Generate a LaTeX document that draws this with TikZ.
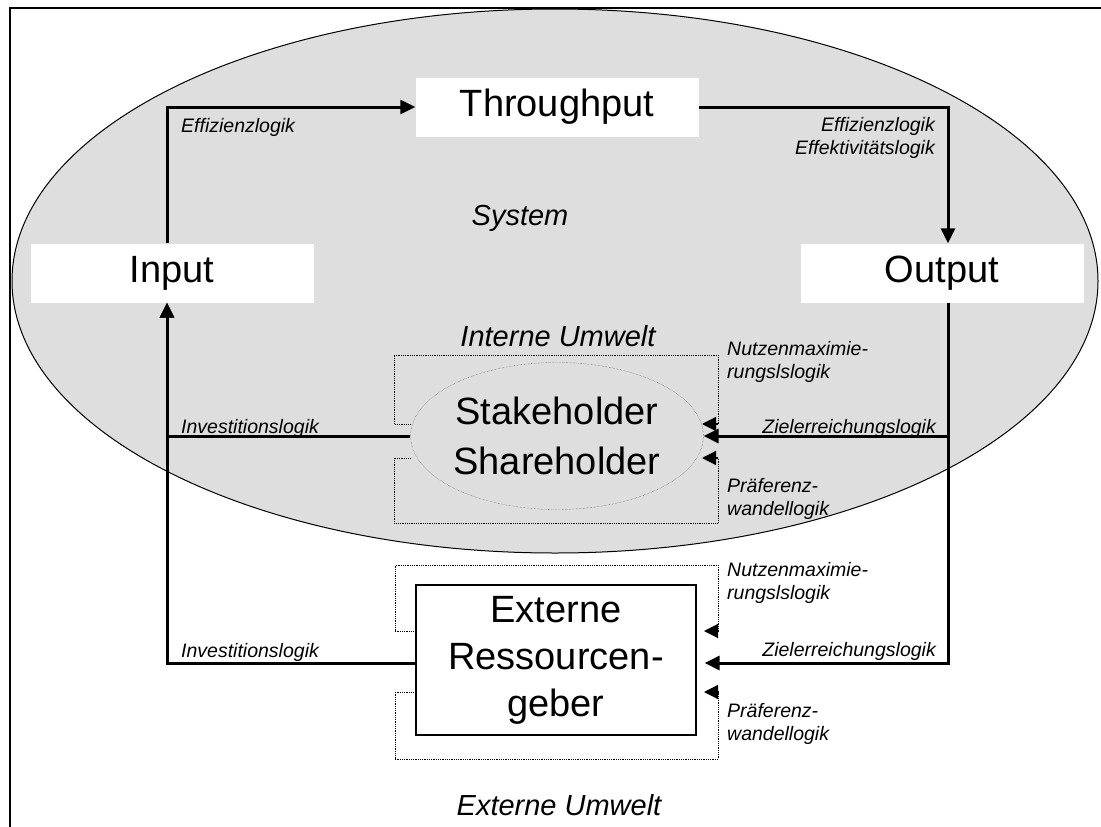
\documentclass[tikz,border=0pt]{standalone}
\usepackage{fontspec}
\setmainfont{Liberation Sans}
\usetikzlibrary{shapes.geometric,arrows.meta}
\definecolor{sysgray}{gray}{0.87}

\begin{document}
\begin{tikzpicture}[x=1pt,y=-1pt]
  \tikzstyle{big}=[font=\fontsize{38}{50}\selectfont, align=center]
  \tikzstyle{mid}=[font=\fontsize{29}{34}\selectfont\itshape]
  \tikzstyle{lbl}=[font=\fontsize{19.5}{23}\selectfont\itshape, inner sep=0pt, align=left]
  \tikzstyle{io}=[big, fill=white, minimum width=283pt, minimum height=59pt, inner sep=0pt]
  \tikzstyle{flow}=[line width=3pt, -{Triangle[length=15pt,width=14pt]}]
  \tikzstyle{dots}=[densely dotted, line width=0.8pt]
  \tikzstyle{ptip}=[line width=1.2pt, -{Triangle[length=14pt,width=14pt]}]

  \useasboundingbox (0,0) rectangle (1101,827);
  \draw[line width=2.2pt] (1101,8) -- (10,8) -- (10,827);
  \draw[fill=sysgray, line width=1pt] (555,281) ellipse [x radius=543, y radius=272];

  % boxes
  \node[io] (thr) at (557,107) {Throughput};
  \node[io] (in) at (172,273) {Input};
  \node[io] (out) at (942,273) {Output};
  \node[mid] (sys) at (520,218) {System};
  \node[mid] (iu) at (558,336) {Interne Umwelt};
  \node[big, ellipse, draw=black!75, densely dotted, minimum width=291pt,
        minimum height=147pt, inner sep=0pt] (sh) at (557,436) {Stakeholder\\Shareholder};
  \node[big, font=\fontsize{38}{47}\selectfont, draw, line width=1.2pt, minimum width=280pt,
        minimum height=150pt, inner sep=0pt] (ext) at (556,660) {Externe\\Ressourcen-\\geber};
  \node[mid] (eu) at (559,805) {Externe Umwelt};

  % logics
  \node[lbl, anchor=west] (l1) at (181,127) {Effizienzlogik};
  \node[lbl, anchor=east, align=right] (l2) at (935,138) {Effizienzlogik\\Effektivitätslogik};
  \node[lbl, anchor=west] (l3) at (727,362) {Nutzenmaximie-\\rungslslogik};
  \node[lbl, anchor=east] (l4) at (936,428) {Zielerreichungslogik};
  \node[lbl, anchor=west] (l5) at (727,499) {Präferenz-\\wandellogik};
  \node[lbl, anchor=west] (l6) at (181,428) {Investitionslogik};
  \node[lbl, anchor=west] (l7) at (727,583) {Nutzenmaximie-\\rungslslogik};
  \node[lbl, anchor=east] (l8) at (936,651) {Zielerreichungslogik};
  \node[lbl, anchor=west] (l9) at (727,724) {Präferenz-\\wandellogik};
  \node[lbl, anchor=west] (l10) at (181,652) {Investitionslogik};

  % main flows
  \draw[flow] ([xshift=-5pt]in.north) |- (thr.west);
  \draw[flow] (thr.east) -| ([xshift=6pt]out.north);
  \draw[flow] ([xshift=6pt]out.south) |- (sh.east);
  \draw[flow, shorten >=8pt] ([xshift=6pt]out.south) |- ([yshift=-3pt]ext.east);
  \draw[flow] (sh.west) -| ([xshift=-5pt]in.south);
  \draw[flow] ([yshift=-3pt]ext.west) -| ([xshift=-5pt]in.south);

  % feedback brackets
  \coordinate (p1) at (718,424);
  \coordinate (p2) at (718,458);
  \coordinate (p3) at (718,631);
  \coordinate (p4) at (718,692);
  \draw[dots] ([yshift=12pt]sh.west) -- ++(-16,0) |- (718,355) -- (p1);
  \draw[dots] ([yshift=-22pt]sh.west) -- ++(-16,0) |- (718,523) -- (p2);
  \draw[dots] ([yshift=29pt]ext.west) -- ++(-20,0) |- (718,565) -- (p3);
  \draw[dots] ([yshift=-32pt]ext.west) -- ++(-20,0) |- (718,759) -- (p4);
  \draw[ptip] (p1) -- ++(-16,0);
  \draw[ptip] (p2) -- ++(-16,0);
  \draw[ptip] (p3) -- ++(-14,0);
  \draw[ptip] (p4) -- ++(-14,0);
\end{tikzpicture}
\end{document}
